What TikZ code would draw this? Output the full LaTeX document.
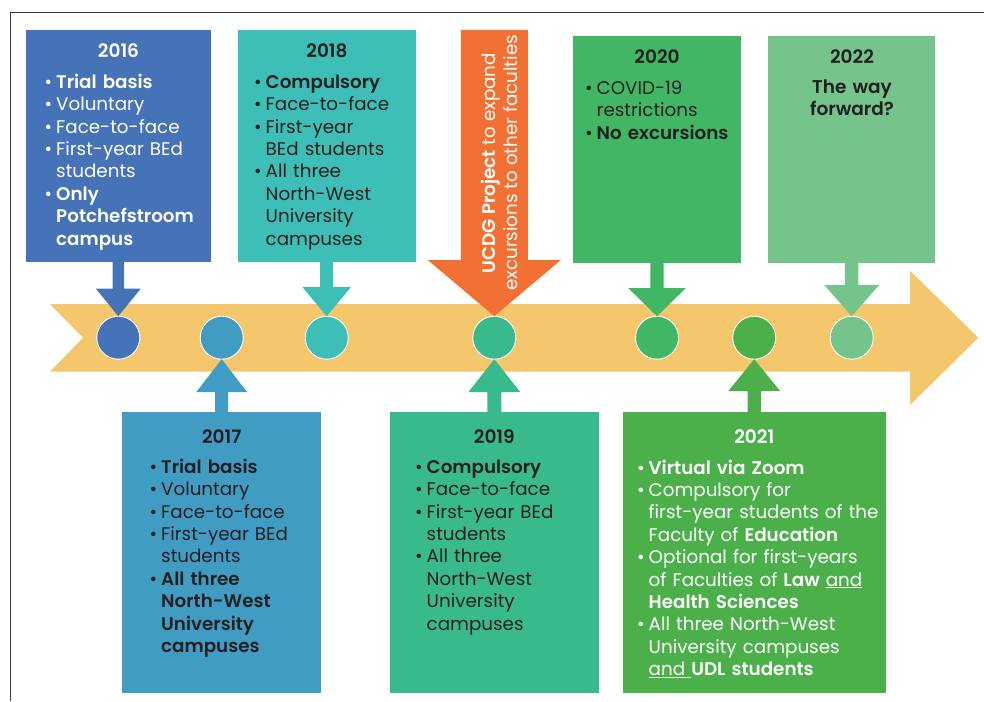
\documentclass[tikz,border=0pt]{standalone}
\usepackage{fontspec}
\setmainfont{Poppins}[BoldFont={Poppins SemiBold}]
\usetikzlibrary{calc}
\definecolor{cBand}{HTML}{F5C76C}
\definecolor{c16}{HTML}{4672B8}
\definecolor{c17}{HTML}{419CC4}
\definecolor{c18}{HTML}{3DBFB8}
\definecolor{c19}{HTML}{38BA8D}
\definecolor{cOr}{HTML}{F37034}
\definecolor{c20}{HTML}{41B665}
\definecolor{c21}{HTML}{4BB04A}
\definecolor{c22}{HTML}{74C48C}
\definecolor{cTxt}{HTML}{231F20}
\definecolor{cFrame}{HTML}{3A3A3A}
\newcommand{\itm}[1]{\noindent\hangindent=11.5pt\hangafter=1\makebox[11.5pt][l]{•}#1\par}
\newcommand{\nl}{\break}
\newcommand{\dnarrow}[6]{%
  \fill[#1] ($(#2.south -| #3.north)+(-#4,0)$) -- ($(#3.north)+(-#4,-#6)$) -- ($(#3.north)+(-#5,-#6)$)
    -- (#3.north) -- ($(#3.north)+(#5,-#6)$) -- ($(#3.north)+(#4,-#6)$) -- ($(#2.south -| #3.north)+(#4,0)$) -- cycle;}
\newcommand{\uparrowshape}[6]{%
  \fill[#1] ($(#2.north -| #3.south)+(-#4,0)$) -- ($(#3.south)+(-#4,#6)$) -- ($(#3.south)+(-#5,#6)$)
    -- (#3.south) -- ($(#3.south)+(#5,#6)$) -- ($(#3.south)+(#4,#6)$) -- ($(#2.north -| #3.south)+(#4,0)$) -- cycle;}
\tikzset{
  box/.style={rectangle, inner sep=0, outer sep=0, anchor=north west},
  dot/.style={circle, inner sep=0, outer sep=0, minimum size=43pt, draw=white, line width=0.9pt},
  title/.style={anchor=base, inner sep=0, font=\bfseries\fontsize{18.5}{22.4}\selectfont},
  txt/.style={anchor=base west, inner sep=0, text width=260pt, align=left, font=\fontsize{18.3}{22.4}\selectfont},
  ctxt/.style={anchor=base, inner sep=0, text width=160pt, align=center, font=\bfseries\fontsize{18.5}{22.4}\selectfont},
}
\begin{document}
\begin{tikzpicture}[x=1pt,y=-1pt]
\useasboundingbox (0,0) rectangle (984,701);
% frame
\draw[cFrame, line width=1pt] (10,701) -- (10,12.5) -- (984,12.5);
% timeline band
\fill[cBand] (50,304) -- (910,304) -- (910,270.7) -- (978.3,337.7) -- (910,405) -- (910,371.7) -- (50,371.7) -- (83,337.7) -- cycle;
% boxes
\node[box, fill=c16, minimum width=185pt, minimum height=231.5pt] (b16) at (26,30) {};
\node[box, fill=c18, minimum width=178pt, minimum height=231.5pt] (b18) at (238,30) {};
\node[box, fill=c20, minimum width=168pt, minimum height=227pt] (b20) at (573,35.7) {};
\node[box, fill=c22, minimum width=167.5pt, minimum height=227pt] (b22) at (767.7,35.7) {};
\node[box, fill=c17, minimum width=199pt, minimum height=280.5pt] (b17) at (122,412.3) {};
\node[box, fill=c19, minimum width=208.7pt, minimum height=280.5pt] (b19) at (390,412.3) {};
\node[box, fill=c21, minimum width=262.7pt, minimum height=280.5pt] (b21) at (623,412.3) {};
% circles
\node[dot, fill=c16] (k16) at (118.3,337.7) {};
\node[dot, fill=c17] (k17) at (221.7,337.7) {};
\node[dot, fill=c18] (k18) at (326.7,337.7) {};
\node[dot, fill=c19] (k19) at (494.3,337.7) {};
\node[dot, fill=c20] (k20) at (657,337.7) {};
\node[dot, fill=c21] (k21) at (754.2,337.7) {};
\node[dot, fill=c22] (k22) at (851.7,337.7) {};
% arrows
\dnarrow{c16}{b16}{k16}{5.8}{22.4}{27.5}
\dnarrow{c18}{b18}{k18}{6.5}{24.2}{29}
\dnarrow{c20}{b20}{k20}{6.7}{28.7}{28}
\dnarrow{c22}{b22}{k22}{6.7}{27.3}{31}
\uparrowshape{c17}{b17}{k17}{6.5}{25.5}{33}
\uparrowshape{c19}{b19}{k19}{7}{26}{33}
\uparrowshape{c21}{b21}{k21}{6.7}{26}{32}
% UCDG arrow
\coordinate (utop) at (494.3,30);
\fill[cOr] ($(utop)+(-33.5,0)$) -- ($(k19.north)+(-33.5,-56)$) -- ($(k19.north)+(-66.3,-56)$) -- (k19.north)
  -- ($(k19.north)+(66.3,-56)$) -- ($(k19.north)+(33.5,-56)$) -- ($(utop)+(33.5,0)$) -- cycle;
\node[rotate=90, align=center, inner sep=0, text=white, font=\fontsize{18.3}{22}\selectfont] (ucdg) at (499,163)
  {\textbf{UCDG Project} to expand\\excursions to other faculties};
% titles
\node[title, text=white] (y16) at (118.5,57) {2016};
\node[title, text=cTxt] (y18) at (327,57) {2018};
\node[title, text=cTxt] (y20) at (657,63.3) {2020};
\node[title, text=cTxt] (y22) at (852,63.3) {2022};
\node[title, text=cTxt] (y17) at (221.7,443.3) {2017};
\node[title, text=cTxt] (y19) at (494.3,443.3) {2019};
\node[title, text=white] (y21) at (754.3,443.3) {2021};
% texts
\node[txt, text=white] (t16) at (44.5,88.3) {%
  \itm{\textbf{Trial basis}}\itm{Voluntary}\itm{Face-to-face}\itm{First-year BEd\nl students}%
  \itm{\textbf{Only\nl Potchefstroom\nl campus}}};
\node[txt, text=cTxt] (t18) at (254,88.3) {%
  \itm{\textbf{Compulsory}}\itm{Face-to-face}\itm{First-year\nl BEd students}%
  \itm{All three\nl North-West\nl University\nl campuses}};
\node[txt, text=cTxt] (t20) at (585,94.3) {%
  \itm{COVID-19\nl restrictions}\itm{\textbf{No excursions}}};
\node[ctxt, text=cTxt] (t22) at (852,93.3) {The way\\forward?};
\node[txt, text=cTxt] (t17) at (149.5,473.3) {%
  \itm{\textbf{Trial basis}}\itm{Voluntary}\itm{Face-to-face}\itm{First-year BEd\nl students}%
  \itm{\textbf{All three\nl North-West\nl University\nl campuses}}};
\node[txt, text=cTxt] (t19) at (415,473.3) {%
  \itm{\textbf{Compulsory}}\itm{Face-to-face}\itm{First-year BEd\nl students}%
  \itm{All three\nl North-West\nl University\nl campuses}};
\node[txt, text=white] (t21) at (637,474) {%
  \itm{\textbf{Virtual via Zoom}}%
  \itm{Compulsory for\nl first-year students of the\nl Faculty of \textbf{Education}}%
  \itm{Optional for first-years\nl of Faculties of \textbf{Law} \underline{and}\nl \textbf{Health Sciences}}%
  \itm{All three North-West\nl University campuses\nl \underline{and }\textbf{UDL students}}};
\end{tikzpicture}
\end{document}
